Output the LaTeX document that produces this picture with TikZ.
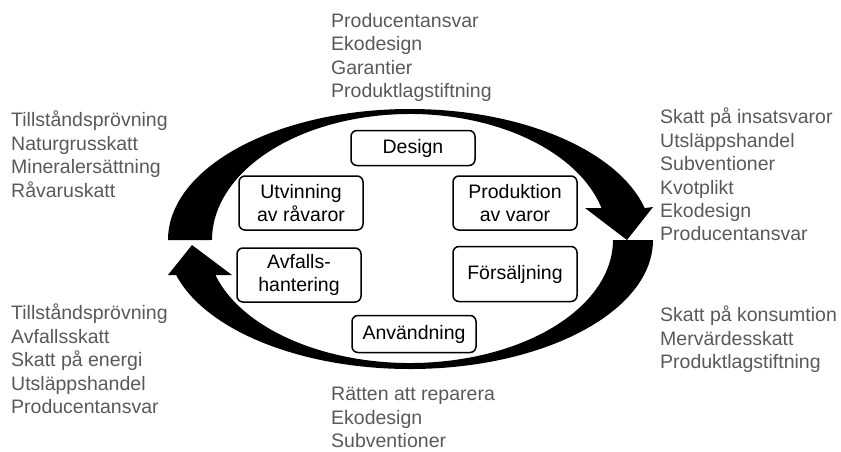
\documentclass[tikz,border=0pt]{standalone}
\usepackage{fontspec}
\setmainfont{Liberation Sans}
\usepackage{tikz}
\usetikzlibrary{positioning}
\definecolor{txtgray}{RGB}{89,89,89}

\begin{document}
\begin{tikzpicture}[
  x=1pt, y=1pt,
  stage/.style={draw, line width=1.5pt, rounded corners=6pt, align=center, minimum width=124pt, inner sep=4pt, font=\fontsize{19.5}{23.4}\selectfont},
  measures/.style={anchor=north west, align=left, inner sep=0pt, text=txtgray, font=\fontsize{19.5}{23.4}\selectfont},
  cyclearrow/.style={fill=black, draw=none}
]
\useasboundingbox (0,0) rectangle (841,-451);

\fill[cyclearrow] (168,-240) arc[start angle=180, end angle=14.1, x radius=242pt, y radius=131pt]
  -- (653,-207) -- (627,-240) -- (585,-208) -- (601.5,-208)
  arc[start angle=14.71, end angle=180, x radius=198pt, y radius=126pt] -- cycle;
\fill[cyclearrow] (653,-240) arc[start angle=0, end angle=-164.26, x radius=243pt, y radius=129pt]
  -- (168,-275) -- (192,-245) -- (232,-275) -- (215.4,-275)
  arc[start angle=-163.47, end angle=0, x radius=203pt, y radius=123pt] -- cycle;

\node[stage, minimum height=35pt] (design) at (413,-148) {Design};
\node[stage, minimum height=54pt] (utvinning) at (301,-203) {Utvinning\\av råvaror};
\node[stage, minimum height=54pt] (produktion) at (515,-203) {Produktion\\av varor};
\node[stage, minimum height=54pt] (avfall) at (299,-275) {Avfalls-\\hantering};
\node[stage, minimum height=55pt] (forsaljning) at (515,-274) {Försäljning};
\node[stage, minimum height=37pt] (anvandning) at (414,-334) {Användning};

\node[measures] (upstream) at (11,-111) {Tillståndsprövning\\Naturgrusskatt\\Mineralersättning\\Råvaruskatt};
\node[measures] (designMeasures) at (331,-13) {Producentansvar\\Ekodesign\\Garantier\\Produktlagstiftning};
\node[measures] (productionMeasures) at (660,-108) {Skatt på insatsvaror\\Utsläppshandel\\Subventioner\\Kvotplikt\\Ekodesign\\Producentansvar};
\node[measures] (wasteMeasures) at (11,-304) {Tillståndsprövning\\Avfallsskatt\\Skatt på energi\\Utsläppshandel\\Producentansvar};
\node[measures] (salesMeasures) at (660,-306) {Skatt på konsumtion\\Mervärdesskatt\\Produktlagstiftning};
\node[measures] (useMeasures) at (331,-387) {Rätten att reparera\\Ekodesign\\Subventioner};
\end{tikzpicture}
\end{document}
